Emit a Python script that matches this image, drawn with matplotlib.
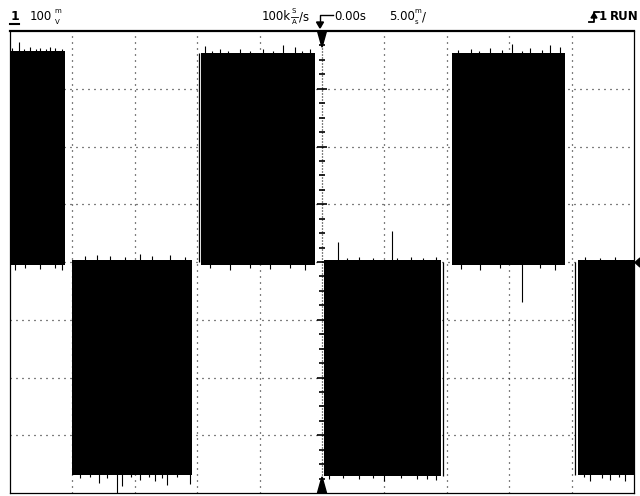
import numpy as np
import matplotlib
matplotlib.use("Agg")
import matplotlib.pyplot as plt
from matplotlib.patches import Polygon
from matplotlib.lines import Line2D

plt.rcParams['lines.scale_dashes'] = False

# --- Screen settings (5 ms/div, 100 mV/div, 10 x 8 divisions) ---
ms_per_div = 5.0
mv_per_div = 100.0
x_grid = [-20, -15, -10, -5, 5, 10, 15, 20]
y_grid = [-300, -200, -100, 0, 100, 200, 300]

# --- Square wave bursts: start / end (ms) and envelope level (mV) ---
seg_start = [-25.0, -20.0, -9.7, 0.15, 10.4, 20.5]
seg_end = [-20.6, -10.4, -0.55, 9.5, 19.5, 25.0]
seg_level = [365, -368, 362, -370, 362, -368]

# thin lines left at the switching edges
edge_t = [-9.86, 9.7, 20.3]
edge_tip = [362, -370, -368]

# noise spikes on the outer side of the envelope (ms, mV)
outer_t = [-24.8, -24.3, -23.9, -23.4, -22.9, -22.6, -22.1, -21.8, -21.4, -20.8,
           -19.4, -18.6, -17.9, -17.2, -16.4, -16.0, -15.3, -14.6, -13.9, -13.4,
           -12.8, -12.4, -11.6, -10.6,
           -9.4, -8.8, -8.2, -7.5, -6.6, -5.8, -4.7, -3.9, -3.1, -2.2, -1.6, -1.0,
           0.6, 1.7, 3.0, 4.1, 5.0, 6.3, 7.6, 8.4, 9.1,
           10.9, 11.9, 12.6, 13.5, 14.4, 15.2, 16.0, 16.7, 17.6, 18.3, 19.1,
           21.0, 21.5, 22.4, 23.1, 23.8, 24.3]
outer_tip = [370, 381, 368, 372, 368, 371, 368, 372, 370, 369,
             -374, -372, -383, -374, -400, -388, -373, -378, -373, -379,
             -374, -386, -373, -384,
             374, 366, 368, 366, 369, 366, 368, 366, 376, 372, 366, 369,
             -375, -374, -376, -374, -379, -374, -376, -375, -378,
             367, 369, 366, 371, 367, 377, 366, 371, 367, 376, 372,
             -373, -379, -374, -377, -373, -380]

# noise spikes reaching across the zero line (ms, mV)
inner_t = [-24.6, -23.8, -22.6, -21.4, -20.8,
           -19.0, -18.0, -17.0, -15.8, -14.6, -13.6, -12.2, -11.0,
           -9.0, -7.4, -5.8, -4.2, -2.6, -1.4,
           1.28, 2.0, 3.0, 4.1, 5.6, 6.0, 7.1, 8.1, 9.1,
           11.1, 12.7, 14.3, 16.0, 17.5, 18.7,
           21.1, 22.3, 23.5]
inner_tip = [-14, -10, -12, -10, -14,
             10, 12, 10, 9, 14, 10, 12, 9,
             -10, -14, -10, -12, -10, -14,
             35, 7, 9, 7, 54, 7, 9, 7, 9,
             -12, -14, -10, -69, -10, -14,
             9, 7, 9]

# --- Figure, screen area in pixels ---
W, H = 640, 496
fig = plt.figure(figsize=(W / 100, H / 100), dpi=100)
x0, y0, x1, y1 = 10, 31, 634, 493
ax = fig.add_axes([x0 / W, 1 - y1 / H, (x1 - x0) / W, (y1 - y0) / H])
ax.set_xlim(-5 * ms_per_div, 5 * ms_per_div)
ax.set_ylim(-4 * mv_per_div, 4 * mv_per_div)
ax.set_xticks([])
ax.set_yticks([])
for side in ["left", "right", "bottom"]:
    ax.spines[side].set_linewidth(0.9)
ax.spines["top"].set_linewidth(1.6)

dots = (0, (0.72, 3.6))
for gx in x_grid:
    ax.axvline(gx, color="black", lw=0.9, ls=dots, zorder=1)
for gy in y_grid:
    ax.axhline(gy, color="black", lw=0.9, ls=dots, zorder=1)

# center axis with quarter division ticks
ax.axvline(0, color="black", lw=0.9, ls=(0, (0.72, 1.44)), zorder=1)
for v in np.arange(-375, 400, 25):
    half = 0.42 if v % 100 == 0 else 0.25
    ax.plot([-half, half], [v, v], color="black", lw=1.2, zorder=1,
            solid_capstyle="butt")

# --- Waveform ---
for t0, t1, lvl in zip(seg_start, seg_end, seg_level):
    inner = -5 if lvl > 0 else 3
    ax.fill_between([t0, t1], inner, lvl, color="black", lw=0, zorder=3)
ax.vlines(edge_t, 0, edge_tip, color="black", lw=0.9, zorder=3)
ax.vlines(outer_t, 0, outer_tip, color="black", lw=0.8, zorder=3)
ax.vlines(inner_t, 0, inner_tip, color="black", lw=0.8, zorder=3)

# trigger point markers
ax.add_patch(Polygon([[-0.36, 400], [0.36, 400], [0, 372]], closed=True,
                     color="black", clip_on=False, zorder=4))
ax.add_patch(Polygon([[-0.36, -400], [0.36, -400], [0, -372]], closed=True,
                     color="black", clip_on=False, zorder=4))


# --- Status line ---
def fx(x):
    return x / W


def fy(y):
    return 1 - y / H


fs = 8.5
small = 5.0
base = 17
fig.text(fx(11), fy(base), "1", fontsize=fs + 0.5, fontweight="bold", va="center")
fig.add_artist(Line2D([fx(10), fx(19)], [fy(23.5), fy(23.5)], color="black", lw=1.5))
fig.text(fx(30), fy(base), "100", fontsize=fs, va="center")
fig.text(fx(54), fy(11), "m", fontsize=small, va="center")
fig.text(fx(55), fy(21.5), "V", fontsize=small, va="center")

fig.text(fx(262), fy(base), "100k", fontsize=fs, va="center")
fig.text(fx(292), fy(11), "S", fontsize=small, va="center")
fig.add_artist(Line2D([fx(291), fx(298)], [fy(16.5), fy(16.5)], color="black", lw=0.6))
fig.text(fx(292), fy(21.5), "A", fontsize=small, va="center")
fig.text(fx(299), fy(base), "/s", fontsize=fs, va="center")

# time reference icon
fig.add_artist(Line2D([fx(320), fx(320), fx(333)], [fy(26), fy(15), fy(15)],
                      color="black", lw=1.0))
fig.add_artist(Polygon([[fx(316.5), fy(22)], [fx(323.5), fy(22)], [fx(320), fy(28)]],
                       closed=True, color="black", transform=fig.transFigure))
fig.text(fx(334), fy(base), "0.00s", fontsize=fs, va="center")

fig.text(fx(389), fy(base), "5.00", fontsize=fs, va="center")
fig.text(fx(414), fy(11), "m", fontsize=small, va="center")
fig.text(fx(415), fy(21.5), "s", fontsize=small, va="center")
fig.text(fx(422), fy(base), "/", fontsize=fs, va="center")

# rising edge trigger icon
fig.add_artist(Line2D([fx(589), fx(594), fx(594), fx(599)],
                      [fy(22), fy(22), fy(12), fy(12)], color="black", lw=1.3))
fig.add_artist(Polygon([[fx(591), fy(18)], [fx(597), fy(18)], [fx(594), fy(13)]],
                       closed=True, color="black", transform=fig.transFigure))
fig.text(fx(599), fy(base), "1", fontsize=fs, fontweight="bold", va="center")
fig.text(fx(610), fy(base), "RUN", fontsize=fs, fontweight="bold", va="center")

# ground level marker at the right edge
fig.add_artist(Polygon([[fx(635), fy(262.5)], [fx(640), fy(258)], [fx(640), fy(267)]],
                       closed=True, color="black", transform=fig.transFigure))

fig.savefig("out.png", dpi=100, facecolor="white")
